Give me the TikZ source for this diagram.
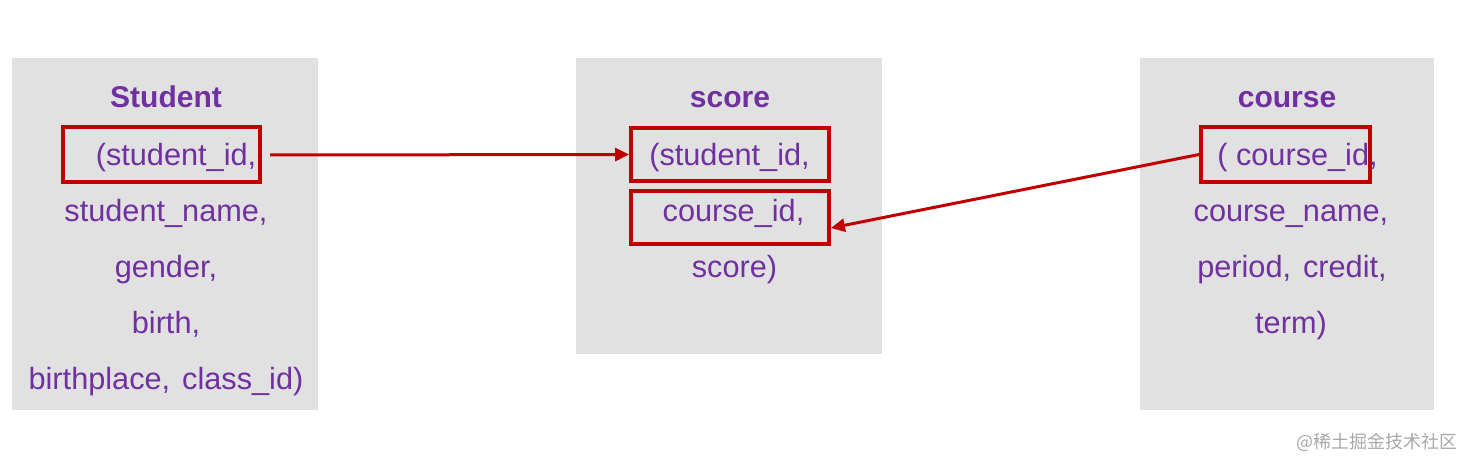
\documentclass[tikz,border=0pt]{standalone}
\usepackage{fontspec}
\setmainfont{Liberation Sans}
\newfontfamily\cjkfont{Noto Sans CJK SC}
\usetikzlibrary{arrows.meta}
\definecolor{boxgrey}{HTML}{E1E1E1}
\definecolor{txtpurple}{HTML}{7030A0}
\definecolor{keyred}{HTML}{C00000}
\definecolor{wmgrey}{HTML}{A8A8A8}
\begin{document}
\begin{tikzpicture}[x=1pt,y=-1pt,
  table/.style={fill=boxgrey, draw=none},
  field/.style={anchor=base, inner sep=0pt, text=txtpurple, font=\fontsize{30.7}{36}\selectfont},
  title/.style={anchor=base, inner sep=0pt, text=txtpurple, font=\fontsize{30}{36}\selectfont\bfseries},
  keybox/.style={draw=keyred, line width=3.8pt, fill=none, inner sep=0pt},
  link/.style={draw=keyred, line width=3pt, -{Triangle[length=14pt,width=13pt]}}
]
\useasboundingbox (0,0) rectangle (1473,468);
% tables
\fill[boxgrey] (12,58) rectangle (318,410);
\fill[boxgrey] (576,58) rectangle (882,354);
\fill[boxgrey] (1140,58) rectangle (1434,410);
% Student
\node[title] (sttitle) at (166,108) {Student};
\node[field] (st1) at (176,165) {(student\_id,};
\node[field] (st2) at (166,221) {student\_name,};
\node[field] (st3) at (166,277) {gender,};
\node[field] (st4) at (166,333) {birth,};
\node[field] (st5) at (166,389) {birthplace,\hspace{12pt}class\_id)};
% score
\node[title] (sctitle) at (730,108) {score};
\node[field] (sc1) at (729.5,165) {(student\_id,};
\node[field] (sc2) at (733.5,221) {course\_id,};
\node[field] (sc3) at (734.5,277) {score)};
% course
\node[title] (cotitle) at (1287,108) {course};
\node[field] (co1) at (1297.5,165) {(\ course\_id,};
\node[field] (co2) at (1291,221) {course\_name,};
\node[field] (co3) at (1292,277) {period,\hspace{12pt}credit,};
\node[field] (co4) at (1291,333) {term)};
% key boxes
\node[keybox, minimum width=197pt, minimum height=55pt] (kst) at (161.5,154.5) {};
\node[keybox, minimum width=198pt, minimum height=53pt] (ksc1) at (730,154.5) {};
\node[keybox, minimum width=198pt, minimum height=53pt] (ksc2) at (730,217.5) {};
\node[keybox, minimum width=169pt, minimum height=55pt] (kco) at (1285.5,154.5) {};
% links
\coordinate (a1) at (270,155);
\draw[link] (a1) -- (ksc1.west);
\draw[link] (kco.west) -- (ksc2.east |- 0,228);
% watermark
\node[anchor=base east, inner sep=0pt, text=wmgrey, font=\cjkfont\fontsize{18}{22}\selectfont] (wm) at (1458,448) {@稀土掘金技术社区};
\end{tikzpicture}
\end{document}
